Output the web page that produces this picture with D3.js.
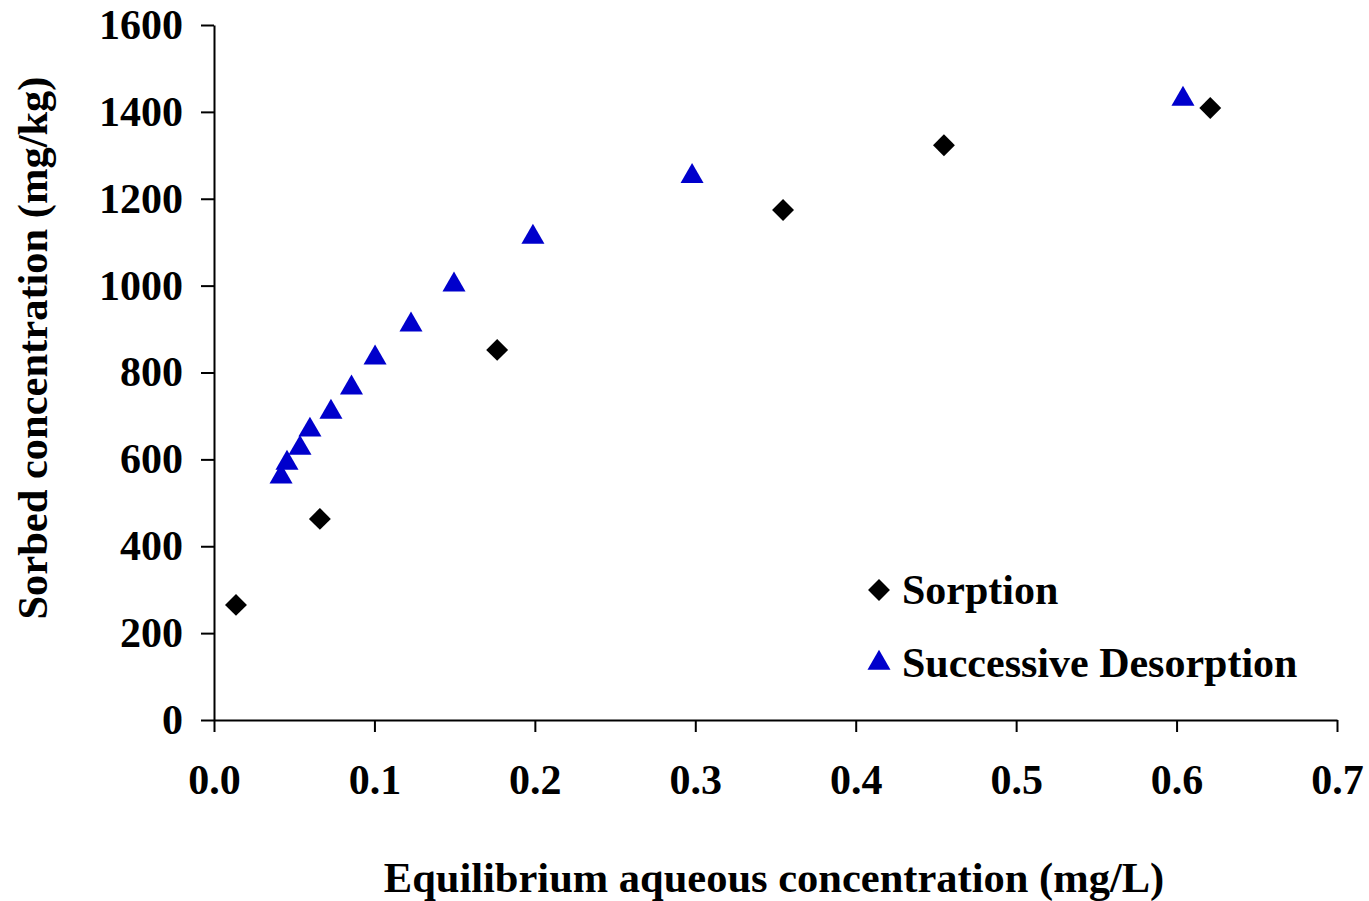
<!DOCTYPE html>
<html>
<head>
<meta charset="utf-8">
<script src="https://cdn.jsdelivr.net/npm/d3@7"></script>
<style>
  body { margin: 0; background: #fff; }
  svg text { font-family: "Liberation Serif", "Times New Roman", serif; font-weight: bold; fill: #000; }
</style>
</head>
<body>
<svg id="chart" width="1369" height="901"></svg>
<script>
"use strict";

// sorption points (mg/L, mg/kg)
var sorption_x = [0.0137, 0.066, 0.1765, 0.3547, 0.455, 0.621];
var sorption_y = [265, 463, 852, 1174, 1323, 1409];

// successive desorption points
var desorption_x = [0.0418, 0.0455, 0.0536, 0.0598, 0.0729, 0.0857, 0.1004, 0.1228, 0.1496, 0.1988, 0.298, 0.604];
var desorption_y = [562, 594, 628, 670, 711, 767, 836, 912, 1004, 1114, 1254, 1432];

var x_ticks = [0, 0.1, 0.2, 0.3, 0.4, 0.5, 0.6, 0.7];
var y_ticks = [0, 200, 400, 600, 800, 1000, 1200, 1400, 1600];

var legend_labels = ['Sorption', 'Successive Desorption'];

var svg = d3.select('#chart');

var x = d3.scaleLinear().domain([0, 0.7]).range([214, 1337]);
var y = d3.scaleLinear().domain([0, 1600]).range([720, 25]);

var font_size = 42;
var title_size = 42.5;

// axes
var x_axis = svg.append('g')
    .attr('transform', 'translate(0,' + y(0) + ')')
    .call(d3.axisBottom(x).tickValues(x_ticks).tickSize(12).tickSizeOuter(0).tickPadding(32)
        .tickFormat(d3.format('.1f')));

var y_axis = svg.append('g')
    .attr('transform', 'translate(' + x(0) + ',0)')
    .call(d3.axisLeft(y).tickValues(y_ticks).tickSize(13).tickSizeOuter(0).tickPadding(18)
        .tickFormat(d3.format('d')));

[x_axis, y_axis].forEach(function( ax ) {
    ax.select('.domain').attr('stroke', '#000').attr('stroke-width', 2);
    ax.selectAll('.tick line').attr('stroke', '#000').attr('stroke-width', 2);
    ax.selectAll('.tick text')
        .style('font-family', '"Liberation Serif", "Times New Roman", serif')
        .style('font-weight', 'bold')
        .style('font-size', font_size + 'px')
        .attr('fill', '#000');
});
x_axis.selectAll('.tick text').attr('dy', '0.71em');

// axis titles
svg.append('text')
    .attr('x', 774)
    .attr('y', 892)
    .attr('text-anchor', 'middle')
    .style('font-size', title_size + 'px')
    .text('Equilibrium aqueous concentration (mg/L)');

svg.append('text')
    .attr('transform', 'translate(47,348) rotate(-90)')
    .attr('text-anchor', 'middle')
    .style('font-size', title_size + 'px')
    .text('Sorbed concentration (mg/kg)');

// markers
var diamond = d3.symbol().type(d3.symbolSquare).size(240);
var triangle = d3.symbol().type(d3.symbolTriangle).size(230);

svg.append('g').selectAll('path')
    .data(desorption_x.map(function( d, i ) { return [d, desorption_y[i]]; }))
    .enter().append('path')
        .attr('d', triangle)
        .attr('transform', function( d ) { return 'translate(' + x(d[0]) + ',' + (y(d[1]) + 1) + ')'; })
        .attr('fill', '#0000cc');

svg.append('g').selectAll('path')
    .data(sorption_x.map(function( d, i ) { return [d, sorption_y[i]]; }))
    .enter().append('path')
        .attr('d', diamond)
        .attr('transform', function( d ) { return 'translate(' + x(d[0]) + ',' + y(d[1]) + ') rotate(45)'; })
        .attr('fill', '#000');

// legend
var legend = svg.append('g');
var legend_rows = [
    { label: legend_labels[0], sym: diamond, fill: '#000', rot: 45, cy: 590 },
    { label: legend_labels[1], sym: triangle, fill: '#0000cc', rot: 0, cy: 663 }
];
legend_rows.forEach(function( r ) {
    legend.append('path')
        .attr('d', r.sym)
        .attr('transform', 'translate(879,' + r.cy + ') rotate(' + r.rot + ')')
        .attr('fill', r.fill);
    legend.append('text')
        .attr('x', 902)
        .attr('y', r.cy + 14)
        .style('font-size', font_size + 'px')
        .text(r.label);
});
</script>
</body>
</html>
